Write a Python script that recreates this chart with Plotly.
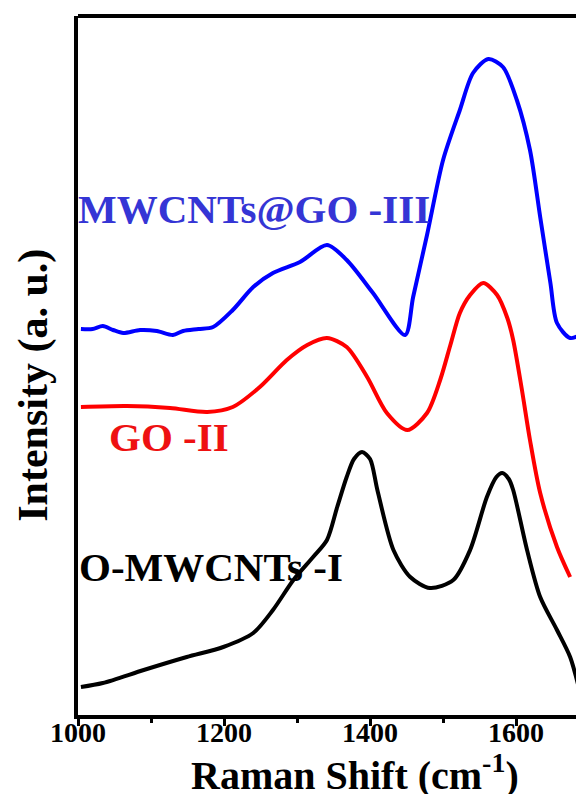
import plotly.graph_objects as go

# Raman shift (cm-1) and intensity (a.u.)
x_o_mwcnts = [1004, 1034, 1090, 1149, 1199, 1240, 1267, 1295, 1322, 1341, 1355, 1368, 1378, 1389,
              1400, 1410, 1432, 1455, 1482, 1514, 1537, 1560, 1573, 1581, 1590, 1596, 1615, 1633, 1656, 1674, 1685]
y_o_mwcnts = [28, 32, 45, 58, 68, 82, 105, 135, 158, 175, 208, 238, 256, 263,
              256, 225, 165, 138, 127, 135, 165, 218, 238, 242, 236, 225, 165, 118, 85, 58, 30]

x_go = [1004, 1067, 1126, 1177, 1212, 1249, 1286, 1314, 1341, 1368, 1396, 1423, 1451, 1478,
        1496, 1510, 1523, 1537, 1555, 1574, 1588, 1596, 1608, 1619, 1633, 1656, 1674]
y_go = [308, 309, 307, 303, 308, 328, 355, 370, 377, 368, 338, 302, 285, 302,
        335, 370, 402, 420, 432, 420, 397, 375, 325, 275, 222, 168, 138]

x_mwcnts_go = [1004, 1020, 1034, 1048, 1062, 1085, 1108, 1130, 1144, 1165, 1185, 1212, 1240, 1267,
               1304, 1341, 1368, 1404, 1448, 1459, 1478, 1500, 1523, 1541, 1562, 1582, 1601,
               1619, 1633, 1647, 1656, 1674, 1693]
y_mwcnts_go = [386, 386, 389, 385, 382, 385, 384, 380, 384, 386, 388, 405, 428, 442,
               453, 470, 455, 422, 380, 418, 480, 555, 605, 642, 656, 648, 615,
               565, 498, 432, 392, 377, 382]

series_names = ["O-MWCNTs -I", "GO -II", "MWCNTs@GO -III"]
label_x = [1001, 1043, 1000.5]
label_y = [148, 278, 506]
line_colors = ["#000000", "#ff0000", "#0000ff"]
text_colors = ["#000000", "#ee1111", "#3535d5"]

x_ticks = [1000, 1200, 1400, 1600]

FONT = "Liberation Serif"

fig = go.Figure()
for xs, ys, c in [(x_o_mwcnts, y_o_mwcnts, line_colors[0]),
                  (x_go, y_go, line_colors[1]),
                  (x_mwcnts_go, y_mwcnts_go, line_colors[2])]:
    fig.add_trace(go.Scatter(x=xs, y=ys, mode="lines",
                             line=dict(color=c, width=4, shape="spline", smoothing=0.8),
                             showlegend=False, hoverinfo="skip"))

for name, lx, ly, tc in zip(series_names, label_x, label_y, text_colors):
    fig.add_annotation(x=lx, y=ly, xref="x", yref="y", text=name, showarrow=False,
                       xanchor="left", yanchor="middle", xshift=-2,
                       font=dict(family=FONT, size=41, color=tc, weight="bold"))

fig.add_annotation(x=0.547, y=0, xref="paper", yref="paper",
                   text="Raman Shift (cm<sup>-1</sup>)", showarrow=False,
                   xanchor="center", yanchor="middle", yshift=-57,
                   font=dict(family=FONT, size=40, color="black", weight="bold"))
fig.add_annotation(x=0, y=0.471, xref="paper", yref="paper",
                   text="Intensity (a. u.)", showarrow=False, textangle=-90,
                   xanchor="center", yanchor="middle", xshift=-44,
                   font=dict(family=FONT, size=42, color="black", weight="bold"))

fig.add_shape(type="line", xref="paper", yref="paper", x0=0, x1=1, y0=1, y1=1,
              line=dict(color="black", width=4))

fig.update_xaxes(range=[1000, 1693], showgrid=False, zeroline=False,
                 showline=True, linecolor="black", linewidth=4,
                 tickmode="array", tickvals=x_ticks, ticktext=[str(t) for t in x_ticks],
                 ticks="outside", ticklen=7, tickwidth=3, tickcolor="black",
                 ticklabelstandoff=-18,
                 minor=dict(tickvals=[1100, 1300, 1500], ticks="outside", ticklen=4,
                            tickwidth=3, tickcolor="black"),
                 tickfont=dict(family=FONT, size=28, color="black", weight="bold"))
fig.update_yaxes(range=[0, 699], showgrid=False, zeroline=False,
                 showline=True, linecolor="black", linewidth=4,
                 showticklabels=False, ticks="")

# page body has an 8px margin, so the figure is sized to end at the window edge
fig.update_layout(width=576, height=786, margin=dict(l=70, r=0, t=8, b=79),
                  plot_bgcolor="white", paper_bgcolor="white")

fig.write_html("out.html")
